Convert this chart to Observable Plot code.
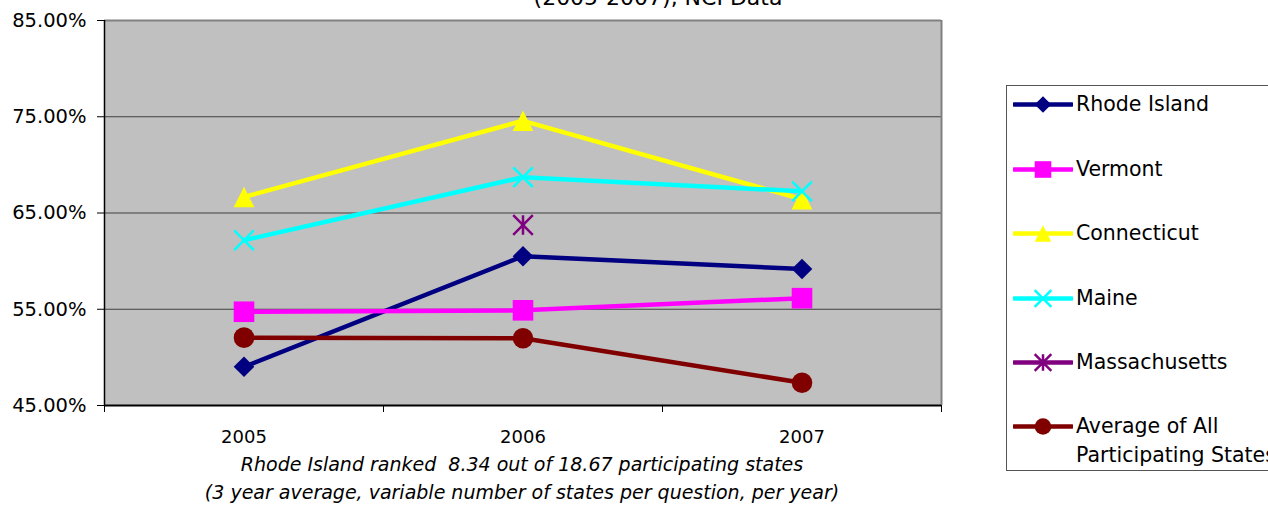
<!DOCTYPE html>
<html><head><meta charset="utf-8">
<script src="https://cdn.jsdelivr.net/npm/d3@7"></script>
<script src="https://cdn.jsdelivr.net/npm/@observablehq/plot@0.6"></script>
<style>
body{margin:0;background:#fff;width:1268px;height:508px;overflow:hidden;position:relative;font-family:"DejaVu Sans",sans-serif;color:#000}
#chart{position:absolute;left:0;top:0}
.title{position:absolute;left:358px;width:600px;top:-15px;text-align:center;font-size:22px;white-space:nowrap}
.cap{position:absolute;left:122px;width:800px;text-align:center;font-style:italic;font-size:19px;white-space:nowrap}
#legend{position:absolute;left:1006px;top:85px;width:280px;height:386px;border:1px solid #555;box-sizing:border-box;background:#fff}
.item{position:absolute;left:6px;display:flex;align-items:flex-start}
.item span{font-size:20.5px;line-height:29px;margin-left:3px;white-space:nowrap}
</style>
</head><body>
<div id="chart"></div>
<div class="title">(2005-2007), NCI Data</div>
<div class="cap" style="top:453px">Rhode Island ranked&nbsp; 8.34 out of 18.67 participating states</div>
<div class="cap" style="top:481px">(3 year average, variable number of states per question, per year)</div>
<div id="legend"></div>
<script>
// ---- data ----
const years = ["2005", "2006", "2007"];
const seriesNames = ["Rhode Island", "Vermont", "Connecticut", "Maine", "Massachusetts", "Average of All Participating States"];
const legendLabels = ["Rhode Island", "Vermont", "Connecticut", "Maine", "Massachusetts", "Average of All\nParticipating States"];
const rhodeIsland = [49.02, 60.51, 59.18];
const vermont = [54.74, 54.89, 56.15];
const connecticut = [66.66, 74.58, 66.43];
const maine = [62.17, 68.72, 67.25];
const massachusetts = [null, 63.75, null];
const averageAll = [52.05, 51.99, 47.36];
const yTicks = [45, 55, 65, 75, 85];
const seriesColors = ["#000080", "#ff00ff", "#ffff00", "#00ffff", "#800080", "#800000"];
const seriesMarkers = ["diamond", "square", "triangle", "times", "asterisk", "circle"];

const values = [rhodeIsland, vermont, connecticut, maine, massachusetts, averageAll];
const rows = [];
seriesNames.forEach((s, i) => values[i].forEach((v, j) => {
  if (v != null) rows.push({series: s, year: years[j], xi: j + 0.5, value: v, marker: seriesMarkers[i]});
}));

// Excel-like marker shapes
function mk(kind) {
  return {draw(ctx, size) {
    const h = Math.sqrt(size / Math.PI);
    if (kind === "diamond") { ctx.moveTo(0, -h); ctx.lineTo(h, 0); ctx.lineTo(0, h); ctx.lineTo(-h, 0); ctx.closePath(); }
    else if (kind === "square") { ctx.rect(-h, -h, 2 * h, 2 * h); }
    else if (kind === "triangle") { ctx.moveTo(0, -h); ctx.lineTo(h, h); ctx.lineTo(-h, h); ctx.closePath(); }
    else if (kind === "circle") { ctx.arc(0, 0, h, 0, 2 * Math.PI); }
    else if (kind === "times") { ctx.moveTo(-h, -h); ctx.lineTo(h, h); ctx.moveTo(h, -h); ctx.lineTo(-h, h); }
    else if (kind === "asterisk") { ctx.moveTo(-h, -h); ctx.lineTo(h, h); ctx.moveTo(h, -h); ctx.lineTo(-h, h); ctx.moveTo(0, -h); ctx.lineTo(0, h); }
  }};
}
const symbolRange = seriesMarkers.map(mk);
const filled = new Set(["diamond", "square", "triangle", "circle"]);

const plot = Plot.plot({
  width: 1268, height: 508,
  marginLeft: 104, marginRight: 327, marginTop: 20, marginBottom: 103,
  style: {fontFamily: "DejaVu Sans, sans-serif", fontSize: "19px", background: "transparent", color: "#000", overflow: "visible"},
  x: {domain: [0, 3], label: null},
  y: {domain: [45, 85], label: null},
  color: {domain: seriesNames, range: seriesColors},
  symbol: {domain: seriesNames, range: symbolRange},
  marks: [
    Plot.frame({fill: "#c0c0c0", stroke: null}),
    Plot.ruleY([55, 65, 75], {stroke: "#404040", strokeWidth: 1}),
    Plot.ruleY([85], {stroke: "#808080", strokeWidth: 2}),
    Plot.ruleX([3], {stroke: "#808080", strokeWidth: 2}),
    Plot.ruleX([0], {stroke: "#000", strokeWidth: 1.5}),
    Plot.ruleY([45], {stroke: "#000", strokeWidth: 2}),
    Plot.axisY({ticks: yTicks, label: null, tickFormat: d => d.toFixed(2) + "%", tickSize: 7, tickPadding: 11, stroke: "#000", strokeOpacity: 1, fontSize: 19.5}),
    Plot.axisX({ticks: [0, 1, 2, 3], label: null, tickSize: 7, tickFormat: () => "", stroke: "#000", strokeOpacity: 1}),
    Plot.axisX({ticks: [0.5, 1.5, 2.5], label: null, tickSize: 0, tickPadding: 25, tickFormat: d => years[Math.floor(d)], fontSize: 18}),
    Plot.line(rows, {x: "xi", y: "value", z: "series", stroke: "series", strokeWidth: 4.5, strokeLinejoin: "round"}),
    Plot.dot(rows.filter(d => filled.has(d.marker)), {x: "xi", y: "value", symbol: "series", fill: "series", stroke: "none", r: 10.3}),
    Plot.dot(rows.filter(d => !filled.has(d.marker)), {x: "xi", y: "value", symbol: "series", stroke: "series", fill: "none", strokeWidth: 2.5, r: 9.8})
  ]
});
document.getElementById("chart").appendChild(plot);

// legend
const legend = document.getElementById("legend");
const rowY = [4, 69, 133, 198, 262, 326];
seriesNames.forEach((s, i) => {
  const item = document.createElement("div");
  item.className = "item";
  item.style.top = rowY[i] + "px";
  const svg = d3.create("svg").attr("width", 60).attr("height", 29);
  svg.append("line").attr("x1", 1).attr("x2", 59).attr("y1", 14.5).attr("y2", 14.5)
    .attr("stroke", seriesColors[i]).attr("stroke-width", 4.5).attr("stroke-linecap", "round");
  const k = seriesMarkers[i];
  const path = d3.path();
  mk(k).draw(path, Math.PI * 8.3 * 8.3);
  const p = svg.append("path").attr("d", path.toString()).attr("transform", "translate(30,14.5)");
  if (filled.has(k)) p.attr("fill", seriesColors[i]);
  else p.attr("fill", "none").attr("stroke", seriesColors[i]).attr("stroke-width", 2.5);
  item.appendChild(svg.node());
  const span = document.createElement("span");
  span.innerHTML = legendLabels[i].replace("\n", "<br>");
  item.appendChild(span);
  legend.appendChild(item);
});
</script>
</body></html>
